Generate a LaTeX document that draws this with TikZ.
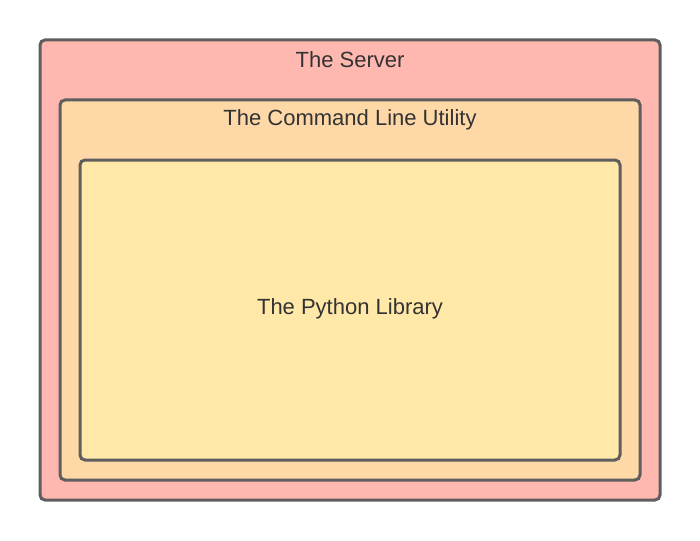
\documentclass[tikz,border=0pt]{standalone}
\usepackage{fontspec}
\setmainfont{Liberation Sans}
\definecolor{serverfill}{HTML}{FFB8B0}
\definecolor{cmdfill}{HTML}{FFD8A8}
\definecolor{libfill}{HTML}{FFE8A8}
\definecolor{edge}{HTML}{5E5E5E}
\definecolor{txt}{HTML}{333333}
\begin{document}
\begin{tikzpicture}[x=1pt,y=-1pt,
  box/.style={draw=edge,line width=3pt,rounded corners=5pt},
  lbl/.style={text=txt,font=\fontsize{22}{26}\selectfont,inner sep=0pt,anchor=center}]
\useasboundingbox (0,0) rectangle (700,540);
\fill[white] (0,0) rectangle (700,540);
\draw[box,fill=serverfill] (40,40) rectangle (660,500);
\draw[box,fill=cmdfill] (60,100) rectangle (640,480);
\draw[box,fill=libfill] (80,160) rectangle (620,460);
\node[lbl] (server) at (350,60) {The Server};
\node[lbl] (cmd) at (350,120) {The Command Line Utility};
\node[lbl] (lib) at (350,309) {The Python Library};
\end{tikzpicture}
\end{document}
